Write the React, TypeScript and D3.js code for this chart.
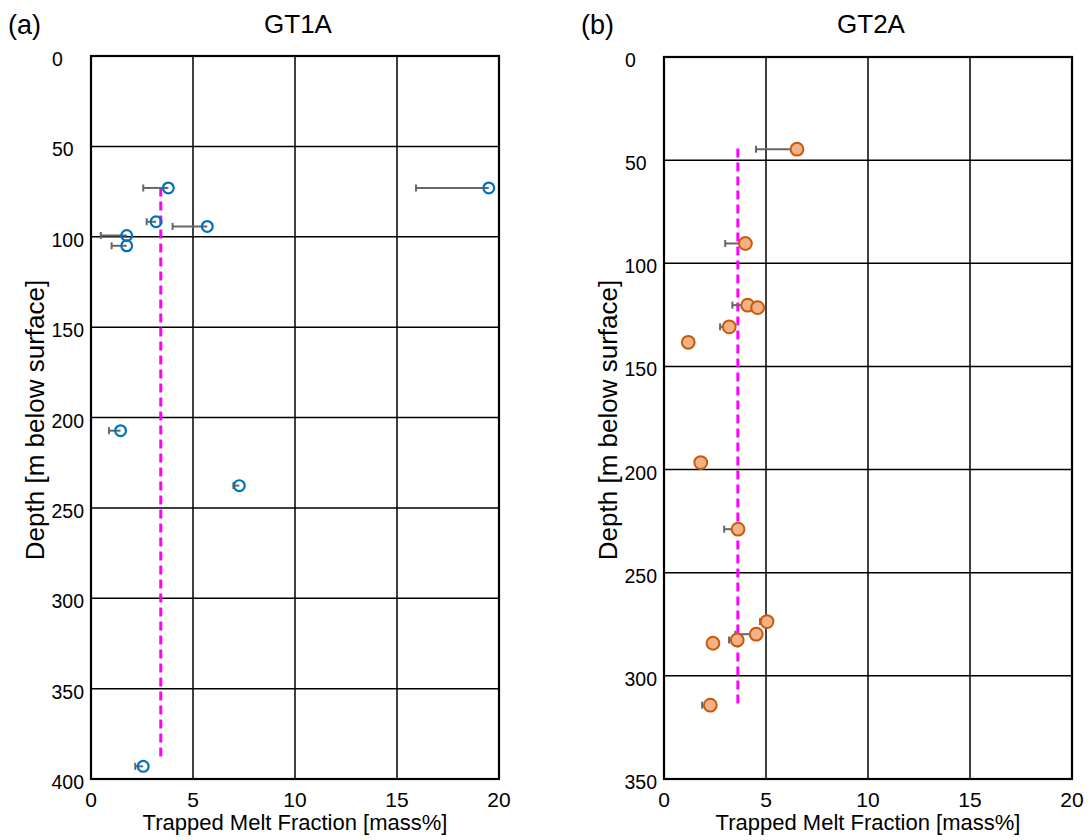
import React from 'react';
import * as d3 from 'd3';

// GT1A – depth [m], trapped melt fraction [mass%], lower error bound
const gt1aDepth = [73, 73, 91.7, 94.3, 99.3, 105, 207.3, 237.7, 393];
const gt1aTmf = [3.79, 19.5, 3.19, 5.7, 1.75, 1.75, 1.45, 7.27, 2.56];
const gt1aLow = [2.56, 15.93, 2.73, 4.0, 0.48, 1.01, 0.88, 6.98, 2.17];
const gt1aMean = 3.42;
const gt1aMeanSpan = [72.7, 390];

// GT2A
const gt2aDepth = [44.7, 90.4, 120.3, 121.5, 130.8, 138.3, 196.6, 228.9, 273.7, 279.8, 282.6, 284.2, 314.2];
const gt2aTmf = [6.52, 3.99, 4.1, 4.59, 3.2, 1.19, 1.8, 3.63, 5.05, 4.52, 3.59, 2.4, 2.27];
const gt2aLow: (number | null)[] = [4.51, 3.0, 3.35, null, 2.75, null, 1.55, 2.95, 4.71, 3.5, 3.19, null, 1.87];
const gt2aMean = 3.62;
const gt2aMeanSpan = [44.4, 314];

const xTicks = [0, 5, 10, 15, 20];
const gt1aYTicks = [0, 50, 100, 150, 200, 250, 300, 350, 400];
const gt2aYTicks = [0, 50, 100, 150, 200, 250, 300, 350];

const FONT = '"Liberation Sans", Arial, sans-serif';

interface PanelProps {
  tag: string;
  title: string;
  left: number;
  top: number;
  depth: number[];
  tmf: number[];
  low: (number | null)[];
  mean: number;
  meanSpan: number[];
  yMax: number;
  yTicks: number[];
  filled: boolean;
}

const Panel: React.FC<PanelProps> = ({ tag, title, left, top, depth, tmf, low, mean, meanSpan, yMax, yTicks, filled }) => {
  const width = 408;
  const bottom = 779;
  const x = d3.scaleLinear().domain([0, 20]).range([left, left + width]);
  const y = d3.scaleLinear().domain([0, yMax]).range([top, bottom]);
  const cx = left + width / 2;

  return (
    <g fontFamily={FONT} fill="#000">
      <text x={left - 83} y={34} fontSize={27}>{tag}</text>
      <text x={cx + 3} y={33} fontSize={26} textAnchor="middle">{title}</text>

      {/* grid */}
      {xTicks.slice(1, -1).map(t => (
        <line key={'gx' + t} x1={x(t)} x2={x(t)} y1={top} y2={bottom} stroke="#000" strokeWidth={1.5} />
      ))}
      {yTicks.slice(1, -1).map(t => (
        <line key={'gy' + t} x1={left} x2={left + width} y1={y(t)} y2={y(t)} stroke="#000" strokeWidth={1.5} />
      ))}
      <rect x={left} y={top} width={width} height={bottom - top} fill="none" stroke="#000" strokeWidth={2.2} />

      {/* tick labels */}
      {yTicks.map(t => (
        t < 100
          ? <text key={'ly' + t} x={left - 39} y={y(t) + 10} fontSize={19.5}>{t}</text>
          : <text key={'ly' + t} x={left - 7} y={y(t) + 10} fontSize={19.5} textAnchor="end">{t}</text>
      ))}
      {xTicks.map(t => (
        <text key={'lx' + t} x={x(t)} y={bottom + 28} fontSize={21} textAnchor="middle">{t}</text>
      ))}

      <text x={cx} y={830} fontSize={22} textAnchor="middle">Trapped Melt Fraction [mass%]</text>
      <text transform={`translate(${left - 47}, 420) rotate(-90)`} fontSize={26} textAnchor="middle">Depth [m below surface]</text>

      {/* mean line */}
      <line x1={x(mean)} x2={x(mean)} y1={y(meanSpan[0])} y2={y(meanSpan[1])}
        stroke="#ff00ff" strokeWidth={3} strokeDasharray="9,5" />

      {/* error bars */}
      {depth.map((d, i) => {
        const lo = low[i];
        if (lo == null) return null;
        return (
          <g key={'e' + i} stroke="#666" strokeWidth={2}>
            <line x1={x(lo)} x2={x(tmf[i])} y1={y(d)} y2={y(d)} />
            <line x1={x(lo)} x2={x(lo)} y1={y(d) - 3.5} y2={y(d) + 3.5} />
          </g>
        );
      })}

      {/* markers */}
      {depth.map((d, i) => (
        filled
          ? <circle key={'m' + i} cx={x(tmf[i])} cy={y(d)} r={6.4} fill="#f4b183" stroke="#c55a11" strokeWidth={2} />
          : <circle key={'m' + i} cx={x(tmf[i])} cy={y(d)} r={5.4} fill="none" stroke="#0070c0" strokeWidth={2.2} />
      ))}
    </g>
  );
};

export default function App() {
  return (
    <svg width={1090} height={840} style={{ display: 'block', position: 'absolute', left: 0, top: 0, background: '#fff' }}>
      <rect width={1090} height={840} fill="#fff" />
      <Panel tag="(a)" title="GT1A" left={91} top={56} depth={gt1aDepth} tmf={gt1aTmf} low={gt1aLow}
        mean={gt1aMean} meanSpan={gt1aMeanSpan} yMax={400} yTicks={gt1aYTicks} filled={false} />
      <Panel tag="(b)" title="GT2A" left={664} top={57} depth={gt2aDepth} tmf={gt2aTmf} low={gt2aLow}
        mean={gt2aMean} meanSpan={gt2aMeanSpan} yMax={350} yTicks={gt2aYTicks} filled={true} />
    </svg>
  );
}
